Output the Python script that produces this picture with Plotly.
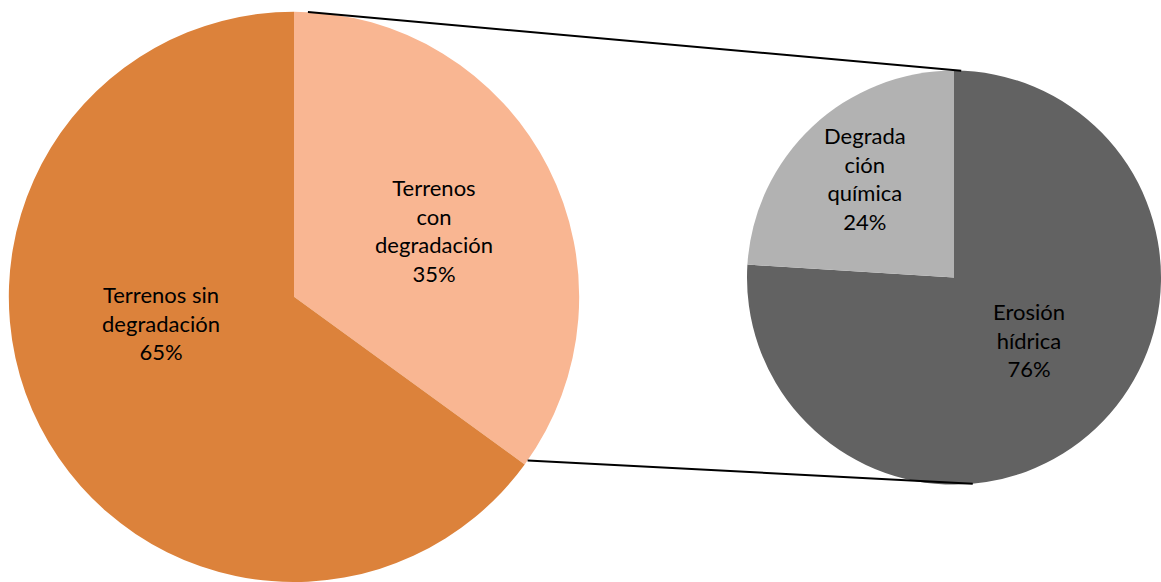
import math
import plotly.graph_objects as go

W, H = 1161, 582

# Main pie data
main_labels = ["Terrenos con degradación", "Terrenos sin degradación"]
main_text = ["Terrenos<br>con<br>degradación", "Terrenos sin<br>degradación"]
main_values = [35, 65]
main_colors = ["#F9B692", "#DC823B"]

# Secondary pie data (breakdown of "con degradación")
sub_labels = ["Erosión hídrica", "Degradación química"]
sub_text = ["Erosión<br>hídrica", "Degrada<br>ción<br>química"]
sub_values = [76, 24]
sub_colors = ["#626262", "#B2B2B2"]

# Layout (paper domains)
main_dom_x = [8 / W, 580 / W]
main_dom_y = [0.0, 0.98]
sub_dom_x = [747 / W, 1.0]
sub_dom_y = [0.166, 0.880]

# label placement: (angle clockwise from 12 o'clock, fraction of radius)
main_label_pos = [(64.6, 0.545), (259.0, 0.475)]
sub_label_pos = [(130.0, 0.47), (318.0, 0.645)]

FONT = "Lato"
FSIZE = 22

fig = go.Figure()
fig.add_trace(go.Pie(
    labels=main_labels, values=main_values, textinfo="none",
    marker=dict(colors=main_colors, line=dict(width=0)),
    sort=False, direction="clockwise", rotation=0,
    domain=dict(x=main_dom_x, y=main_dom_y),
    showlegend=False, hoverinfo="label+percent",
))
fig.add_trace(go.Pie(
    labels=sub_labels, values=sub_values, textinfo="none",
    marker=dict(colors=sub_colors, line=dict(width=0)),
    sort=False, direction="clockwise", rotation=0,
    domain=dict(x=sub_dom_x, y=sub_dom_y),
    showlegend=False, hoverinfo="label+percent",
))

# Geometry of the two pies in pixels, derived from domains
def pie_geom(dx, dy):
    x0, x1 = dx[0] * W, dx[1] * W
    y0, y1 = (1 - dy[1]) * H, (1 - dy[0]) * H
    r = min(x1 - x0, y1 - y0) / 2
    return (x0 + x1) / 2, (y0 + y1) / 2, r

def point(geom, ang, frac=1.0):
    cx, cy, r = geom
    a = math.radians(ang)
    return cx + frac * r * math.sin(a), cy - frac * r * math.cos(a)

gm = pie_geom(main_dom_x, main_dom_y)
gs = pie_geom(sub_dom_x, sub_dom_y)

# Slice labels
for geom, texts, values, positions in [
    (gm, main_text, main_values, main_label_pos),
    (gs, sub_text, sub_values, sub_label_pos),
]:
    total = sum(values)
    for t, v, (ang, frac) in zip(texts, values, positions):
        px, py = point(geom, ang, frac)
        pct = round(v / total * 100)
        fig.add_annotation(
            x=px / W, y=1 - py / H, xref="paper", yref="paper",
            text=f"{t}<br>{pct}%", showarrow=False,
            xanchor="center", yanchor="middle", align="center",
            font=dict(family=FONT, size=FSIZE, color="#000000"),
        )

split_angle = main_values[0] / sum(main_values) * 360
connectors = [((gm, 2.8), (gs, 2.0)), ((gm, split_angle - 1), (gs, 174.8))]
for (g1, a1), (g2, a2) in connectors:
    p1 = point(g1, a1)
    p2 = point(g2, a2)
    fig.add_shape(type="line", xref="paper", yref="paper",
                  x0=p1[0] / W, y0=1 - p1[1] / H, x1=p2[0] / W, y1=1 - p2[1] / H,
                  line=dict(color="#000000", width=2))

fig.update_layout(
    width=W, height=H,
    margin=dict(l=0, r=0, t=0, b=0),
    paper_bgcolor="#FFFFFF", plot_bgcolor="#FFFFFF",
    font=dict(family=FONT),
)

fig.write_html("out.html", config={"displayModeBar": False},
               post_script="document.body.style.margin='0';document.body.style.overflow='hidden';")
